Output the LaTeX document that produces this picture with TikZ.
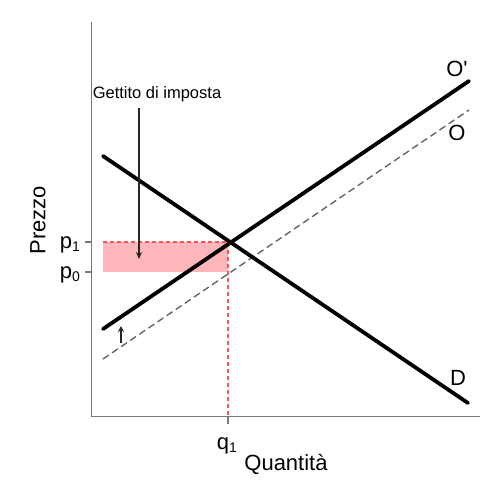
\documentclass[tikz,border=0pt]{standalone}
\usepackage{fontspec}
\setmainfont{Liberation Sans}
\usetikzlibrary{arrows.meta}
\definecolor{axisgray}{RGB}{120,120,120}
\definecolor{taxred}{RGB}{255,80,90}
\definecolor{taxfill}{RGB}{255,182,186}
\tikzset{
  axisline/.style={draw=axisgray, line width=1.6pt},
  curve/.style={draw=black, line width=3.8pt, line cap=round},
  oldsupply/.style={draw=axisgray!85!black, line width=1.4pt, dash pattern=on 7pt off 4pt},
  reddash/.style={draw=taxred, line width=1.1pt, dash pattern=on 4pt off 3pt},
  bigtxt/.style={font=\fontsize{22}{24}\selectfont, inner sep=0pt},
  smalltxt/.style={font=\fontsize{16.5}{18}\selectfont, inner sep=0pt},
  pointer/.style={draw=black!85, line width=1.2pt, -{Stealth[length=7pt,width=6pt]}}
}
\newcommand{\mysub}[1]{\raisebox{-0.25ex}{\fontsize{14}{16}\selectfont #1}}
\begin{document}
\begin{tikzpicture}[x=1pt,y=-1pt]
\useasboundingbox (0,0) rectangle (493,496);
% coordinates
\coordinate (ytop) at (91.5,22);
\coordinate (orig) at (91.5,416.5);
\coordinate (xend) at (480,416.5);
\coordinate (dA) at (103,156);
\coordinate (dB) at (468,403);
\coordinate (sA) at (103,329);
\coordinate (sB) at (469,81);
\coordinate (oA) at (103,359);
\coordinate (oB) at (469,110);
\coordinate (eq) at (228,242);
\coordinate (rTL) at (103,242);
\coordinate (rBR) at (228,272);
\coordinate (qtick) at (228,416.5);
\coordinate (qtickb) at (228,424);
\coordinate (p1t) at (91.5,242);
\coordinate (p1tl) at (85,242);
\coordinate (p0t) at (91.5,272);
\coordinate (p0tl) at (85,272);
% tax rectangle
\fill[taxfill] (rTL) rectangle (rBR);
\draw[reddash] (rTL) -- (eq) -- (qtick);
% axes
\draw[axisline] (ytop) -- (orig) -- (xend);
\draw[axisline] (qtick) -- (qtickb);
\draw[axisline] (p1t) -- (p1tl);
\draw[axisline] (p0t) -- (p0tl);
% old supply
\draw[oldsupply] (oA) -- (oB);
% demand and new supply
\draw[curve] (dA) -- (dB);
\draw[curve] (sA) -- (sB);
% labels
\node[bigtxt] (lOp) at (457,69) {O\textquotesingle};
\node[bigtxt] (lO) at (457,133) {O};
\node[bigtxt] (lD) at (458,378) {D};
\node[bigtxt, rotate=90] (lP) at (38,220) {Prezzo};
\node[bigtxt] (lQ) at (286,464) {Quantità};
\node[bigtxt, anchor=east] (lp1) at (80,245) {p\mysub{1}};
\node[bigtxt, anchor=east] (lp0) at (80,275) {p\mysub{0}};
\node[bigtxt] (lq1) at (227,446) {q\mysub{1}};
\node[smalltxt] (lG) at (157,94) {Gettito di imposta};
% arrows
\coordinate (gA) at (139,108);
\coordinate (gB) at (139,259);
\draw[pointer] (gA) -- (gB);
\coordinate (uA) at (121,343);
\coordinate (uB) at (121,326);
\draw[pointer, line width=1.1pt, -{Stealth[length=6pt,width=6pt]}] (uA) -- (uB);
\end{tikzpicture}
\end{document}
